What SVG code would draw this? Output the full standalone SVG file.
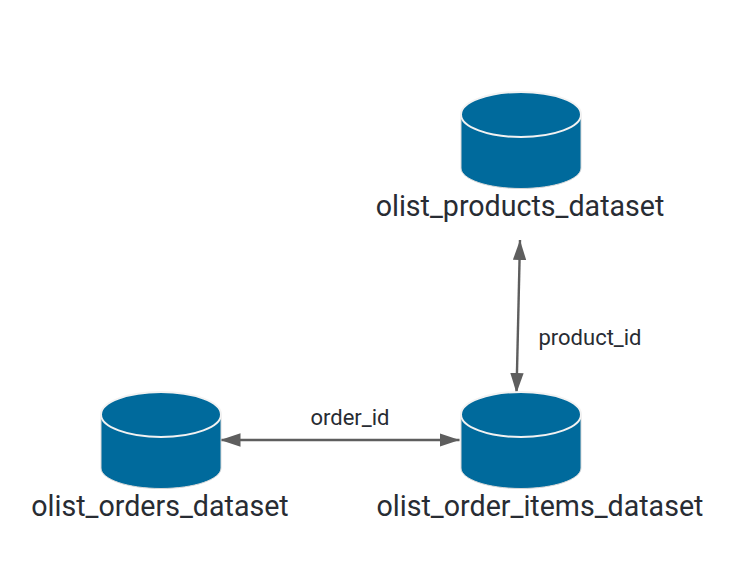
<svg xmlns="http://www.w3.org/2000/svg" xmlns:xlink="http://www.w3.org/1999/xlink" width="740" height="580" viewBox="0 0 740 580">
<style>
.body{fill:#006a9c;stroke:#d9d9d9;stroke-width:1}
.top{fill:#006a9c;stroke:#f2f2f2;stroke-width:2}
.name{font-family:Roboto,"Liberation Sans",sans-serif;font-size:28.6px;fill:#282c33;text-anchor:middle}
.lbl{font-family:Roboto,"Liberation Sans",sans-serif;font-size:22px;fill:#282c33;text-anchor:middle}
.conn{stroke:#5e5e5e;stroke-width:2.4;fill:none;marker-start:url(#a);marker-end:url(#a)}
</style>
<defs>
<marker id="a" markerUnits="userSpaceOnUse" markerWidth="20" markerHeight="14" refX="18" refY="6" orient="auto-start-reverse" viewBox="0 0 18 12"><path d="M0 0L18 6L0 12Z" fill="#5e5e5e"/></marker>
<g id="cyl"><path class="body" d="M0 22V76C0 87.500 27 96.500 60 96.500S120 87.500 120 76V22Z"/><ellipse class="top" cx="60" cy="22.500" rx="60" ry="22.500"/></g>
</defs>
<rect width="740" height="580" fill="#fff"/>
<g id="connectors">
<path class="conn" d="M520 240L516.500 393"/>
<path class="conn" d="M220.500 440H459.500"/>
</g>
<g id="products"><use xlink:href="#cyl" href="#cyl" x="461" y="92"/><text class="name" x="520" y="216">olist_products_dataset</text></g>
<g id="orders"><use xlink:href="#cyl" href="#cyl" x="101" y="392"/><text class="name" x="160" y="516">olist_orders_dataset</text></g>
<g id="order_items"><use xlink:href="#cyl" href="#cyl" x="461" y="392"/><text class="name" x="540" y="516">olist_order_items_dataset</text></g>
<g id="labels"><text class="lbl" x="350" y="424.500">order_id</text><text class="lbl" x="590" y="344.500">product_id</text></g>
</svg>
